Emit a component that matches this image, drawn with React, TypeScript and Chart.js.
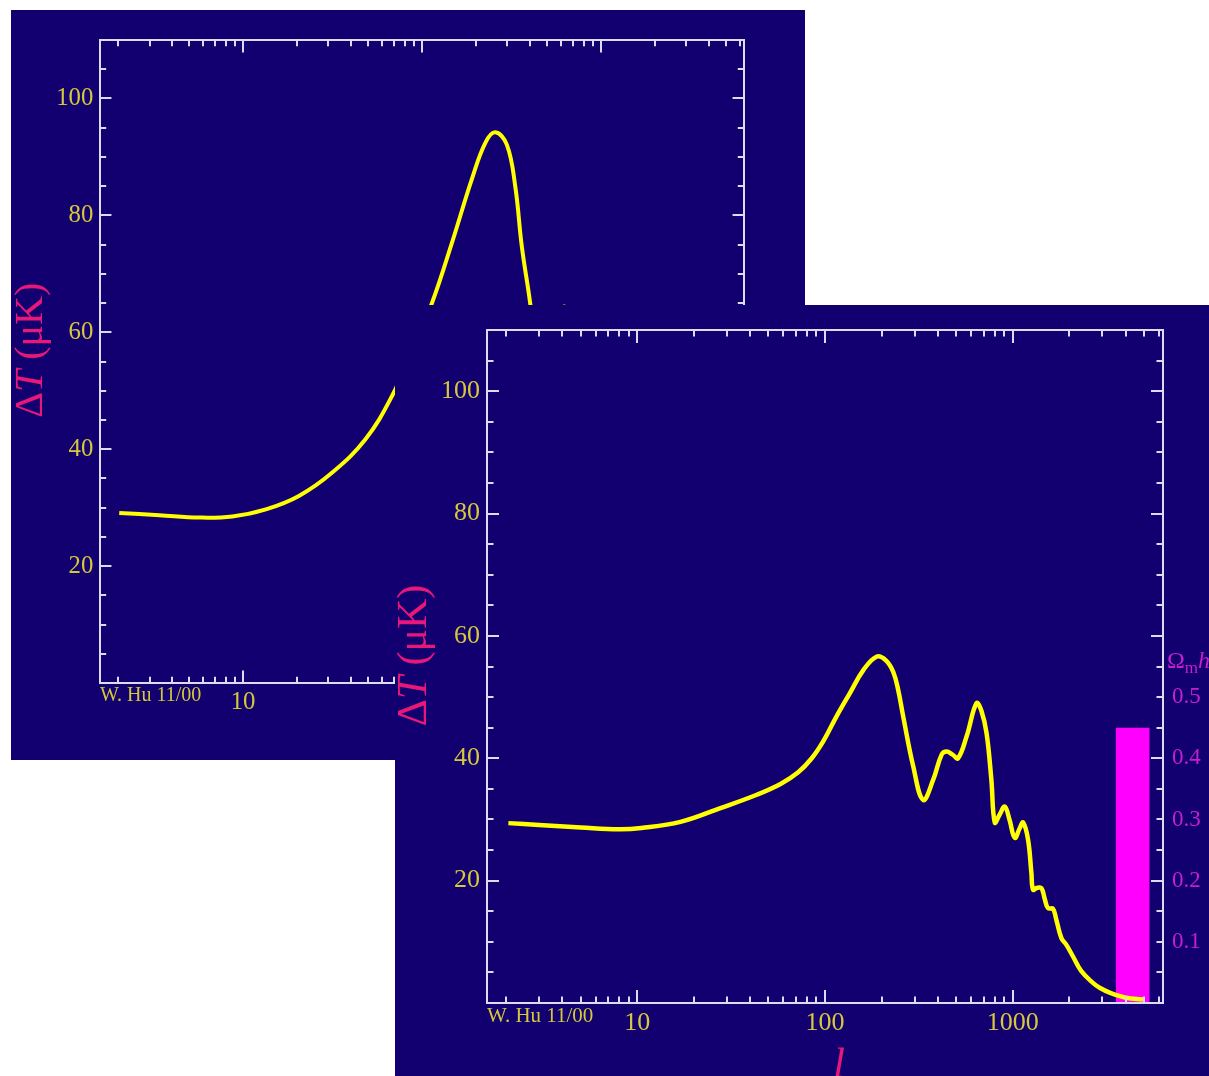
import React, { useEffect, useRef } from 'react';
import { Chart, registerables } from 'chart.js';

Chart.register(...registerables);

// ---- data ----
// front panel: multipole l and temperature anisotropy ΔT (μK)
const frontL = [2.06, 3.0, 5.0, 8.0, 10.5, 17, 28, 43, 58, 72, 85, 98, 115, 136, 160, 188, 211, 231, 246, 261, 295, 333, 377, 418, 444, 478, 511, 568, 641, 680, 725, 769, 802, 852, 906, 960, 1025, 1090, 1136, 1206, 1256, 1282, 1340, 1420, 1480, 1541, 1638, 1700, 1815, 1930, 2093, 2318, 2672, 2904, 3281, 4027, 4934];
const frontDT = [29.4, 29.1, 28.7, 28.4, 28.6, 29.6, 31.9, 34.0, 35.8, 37.7, 40.0, 42.8, 46.8, 50.7, 54.4, 56.6, 56.0, 54.1, 51.0, 46.8, 38.7, 33.2, 36.5, 40.6, 41.1, 40.6, 40.0, 43.6, 49.0, 47.8, 44.1, 36.5, 29.5, 30.8, 32.1, 30.0, 27.0, 28.6, 29.5, 26.7, 21.3, 18.5, 18.8, 18.8, 17.0, 15.5, 15.4, 13.8, 10.6, 9.5, 7.6, 5.2, 3.3, 2.5, 1.7, 0.85, 0.57];
// back panel (partly hidden)
const backL = [2.03, 3.4, 5.7, 8.7, 13.4, 20.5, 31.5, 48.3, 68, 90, 114, 147, 190, 226, 257, 298, 332, 361, 402, 450, 510, 590, 625, 665, 760, 900, 1100, 1400, 1800, 2500, 3500, 5000];
const backDT = [29.1, 28.7, 28.3, 28.5, 29.7, 32.0, 36.0, 41.7, 49.1, 57.5, 65.1, 75.3, 86.2, 92.4, 94.2, 92.1, 85.0, 74.8, 65.1, 53, 50, 63.0, 64.4, 62.8, 45, 38, 32, 22, 13, 5, 1.5, 0.6];
// Ω_m h² indicator bar (front panel)
const omegaL = [3530, 5360];
const omegaValue = [0.45, 0.45];

// ---- axes ----
const xMin = 1.585;
const xMax = 6310;
const yMin = 0;
const yMax = 110;
const omegaMax = 1.1;
const xLabelTicks = [10, 100, 1000];
const xMinorTicks = [2, 3, 4, 5, 6, 7, 8, 9, 20, 30, 40, 50, 60, 70, 80, 90, 200, 300, 400, 500, 600, 700, 800, 900, 2000, 3000, 4000, 5000, 6000];
const yLabelTicks = [20, 40, 60, 80, 100];
const yAllTicks = [5, 10, 15, 20, 25, 30, 35, 40, 45, 50, 55, 60, 65, 70, 75, 80, 85, 90, 95, 100, 105];
const omegaTicks = [0.1, 0.2, 0.3, 0.4, 0.5];

const BG = '#130070';
const AXIS_COLOR = '#dcdcf0';
const TICK_TEXT = '#d6c83c';
const TITLE_COLOR = '#e8187a';
const OMEGA_TEXT = '#c81ed2';
const BAR_COLOR = '#ff00ff';
const LINE_COLOR = '#ffff00';
const SERIF = '"Liberation Serif", "DejaVu Serif", serif';

type Panel = {
  k: number;
  width: number;
  height: number;
  yWidth: number;
  y2Width: number;
  padTop: number;
  xHeight: number;
  lValues: number[];
  dtValues: number[];
  lineWidth: number;
  showOmega: boolean;
};

function buildConfig(p: Panel): any {
  const k = p.k;
  const frame = {
    id: 'frameTicks',
    afterDatasetsDraw(chart: any) {
      const { ctx, chartArea: a, scales } = chart;
      const sx = scales.x;
      const sy = scales.y;
      ctx.save();
      ctx.strokeStyle = AXIS_COLOR;
      ctx.lineWidth = 2;
      ctx.beginPath();
      const seg = (x1: number, y1: number, x2: number, y2: number) => {
        ctx.moveTo(x1, y1);
        ctx.lineTo(x2, y2);
      };
      const xt: [number, number][] = [
        ...xMinorTicks.map((v) => [v, 6.5 * k] as [number, number]),
        ...xLabelTicks.map((v) => [v, 13 * k] as [number, number]),
      ];
      for (const [v, len] of xt) {
        const px = Math.round(sx.getPixelForValue(v));
        seg(px, a.bottom, px, a.bottom - len);
        seg(px, a.top, px, a.top + len);
      }
      for (const v of yAllTicks) {
        const len = yLabelTicks.includes(v) ? 12 * k : 6.5 * k;
        const py = Math.round(sy.getPixelForValue(v));
        seg(a.left, py, a.left + len, py);
        seg(a.right, py, a.right - len, py);
      }
      ctx.stroke();
      ctx.strokeRect(a.left, a.top, a.right - a.left, a.bottom - a.top);
      ctx.restore();
    },
  };
  const texts = {
    id: 'panelTexts',
    afterDraw(chart: any) {
      const { ctx, chartArea: a } = chart;
      ctx.save();
      // y title ΔT (μK)
      const fs = 42 * k;
      ctx.translate(a.left - 72 * k, a.top + 325.5 * k);
      ctx.rotate(-Math.PI / 2);
      ctx.fillStyle = TITLE_COLOR;
      ctx.textBaseline = 'middle';
      const parts = [
        { t: '\u0394', f: `${fs}px ${SERIF}` },
        { t: 'T', f: `italic ${fs}px ${SERIF}` },
        { t: ' (\u03bcK)', f: `${fs}px ${SERIF}` },
      ];
      let total = 0;
      for (const pt of parts) {
        ctx.font = pt.f;
        total += ctx.measureText(pt.t).width;
      }
      let cx = -total / 2;
      for (const pt of parts) {
        ctx.font = pt.f;
        ctx.fillText(pt.t, cx, 0);
        cx += ctx.measureText(pt.t).width;
      }
      ctx.restore();

      ctx.save();
      // credit
      ctx.fillStyle = TICK_TEXT;
      ctx.textBaseline = 'middle';
      ctx.textAlign = 'left';
      ctx.font = `${21 * k}px ${SERIF}`;
      ctx.fillText('W. Hu 11/00', a.left, a.bottom + 13 * k);
      // x title
      ctx.fillStyle = TITLE_COLOR;
      ctx.textAlign = 'center';
      ctx.textBaseline = 'alphabetic';
      ctx.font = `italic ${42 * k}px ${SERIF}`;
      ctx.fillText('l', a.left + 352 * k, a.bottom + 74 * k);
      // Ω_m h² label
      ctx.fillStyle = OMEGA_TEXT;
      ctx.textAlign = 'left';
      const ox = a.right + 4 * k;
      const oy = a.bottom - 335 * k;
      ctx.font = `${24 * k}px ${SERIF}`;
      ctx.fillText('\u03a9', ox, oy);
      let w = ctx.measureText('\u03a9').width;
      ctx.font = `${17 * k}px ${SERIF}`;
      ctx.fillText('m', ox + w, oy + 5 * k);
      w += ctx.measureText('m').width;
      ctx.font = `italic ${24 * k}px ${SERIF}`;
      ctx.fillText('h', ox + w, oy);
      w += ctx.measureText('h').width;
      ctx.font = `${16 * k}px ${SERIF}`;
      ctx.fillText('2', ox + w, oy - 9 * k);
      ctx.restore();
    },
  };

  const datasets: any[] = [
    {
      label: 'ΔT',
      data: p.lValues.map((l, i) => ({ x: l, y: p.dtValues[i] })),
      borderColor: LINE_COLOR,
      borderWidth: p.lineWidth,
      pointRadius: 0,
      fill: false,
      tension: 0.4,
      yAxisID: 'y',
      order: 1,
    },
  ];
  if (p.showOmega) {
    datasets.push({
      label: 'Ωm h²',
      data: omegaL.map((l, i) => ({ x: l, y: omegaValue[i] })),
      borderWidth: 0,
      borderColor: BAR_COLOR,
      backgroundColor: BAR_COLOR,
      pointRadius: 0,
      fill: 'origin',
      tension: 0,
      yAxisID: 'y2',
      order: 2,
    });
  }

  return {
    type: 'line',
    data: { datasets },
    plugins: [frame, texts],
    options: {
      responsive: false,
      animation: false,
      devicePixelRatio: 1,
      layout: { padding: { top: p.padTop, left: 0, right: 0, bottom: 0 } },
      plugins: { legend: { display: false }, tooltip: { enabled: false } },
      scales: {
        x: {
          type: 'logarithmic',
          position: 'bottom',
          min: xMin,
          max: xMax,
          grid: { display: false, drawTicks: false },
          border: { display: false },
          afterBuildTicks: (s: any) => {
            s.ticks = xLabelTicks.map((v) => ({ value: v }));
          },
          afterFit: (s: any) => {
            s.height = p.xHeight;
          },
          ticks: {
            autoSkip: false,
            maxRotation: 0,
            minRotation: 0,
            padding: 5 * k,
            color: TICK_TEXT,
            font: { family: SERIF, size: 26 * k },
            callback: (v: any) => String(v),
          },
        },
        y: {
          type: 'linear',
          position: 'left',
          min: yMin,
          max: yMax,
          grid: { display: false, drawTicks: false },
          border: { display: false },
          afterBuildTicks: (s: any) => {
            s.ticks = yLabelTicks.map((v) => ({ value: v }));
          },
          afterFit: (s: any) => {
            s.width = p.yWidth;
          },
          ticks: {
            padding: 7 * k,
            color: TICK_TEXT,
            font: { family: SERIF, size: 26 * k },
            callback: (v: any) => String(v),
          },
        },
        y2: {
          type: 'linear',
          position: 'right',
          min: 0,
          max: omegaMax,
          grid: { display: false, drawTicks: false },
          border: { display: false },
          afterBuildTicks: (s: any) => {
            s.ticks = omegaTicks.map((v) => ({ value: v }));
          },
          afterFit: (s: any) => {
            s.width = p.y2Width;
          },
          ticks: {
            padding: 9 * k,
            color: OMEGA_TEXT,
            font: { family: SERIF, size: 23 * k },
            callback: (v: any) => Number(v).toFixed(1),
          },
        },
      },
    },
  };
}

const backPanel: Panel = {
  k: 0.953,
  width: 794,
  height: 750,
  yWidth: 89,
  y2Width: 61,
  padTop: 30,
  xHeight: 77,
  lValues: backL,
  dtValues: backDT,
  lineWidth: 4,
  showOmega: false,
};

const frontPanel: Panel = {
  k: 1,
  width: 814,
  height: 771,
  yWidth: 92,
  y2Width: 46,
  padTop: 25,
  xHeight: 73,
  lValues: frontL,
  dtValues: frontDT,
  lineWidth: 4.5,
  showOmega: true,
};

function PanelChart({ panel, left, top }: { panel: Panel; left: number; top: number }) {
  const ref = useRef<HTMLCanvasElement | null>(null);
  useEffect(() => {
    if (!ref.current) return;
    const chart = new Chart(ref.current, buildConfig(panel));
    return () => chart.destroy();
  }, [panel]);
  return (
    <div
      style={{
        position: 'absolute',
        left,
        top,
        width: panel.width,
        height: panel.height,
        background: BG,
        overflow: 'hidden',
      }}
    >
      <canvas
        ref={ref}
        width={panel.width}
        height={panel.height}
        style={{ display: 'block', width: panel.width, height: panel.height }}
      />
    </div>
  );
}

export default function App() {
  return (
    <div
      style={{
        position: 'absolute',
        left: 0,
        top: 0,
        width: 1209,
        height: 1076,
        background: '#ffffff',
        overflow: 'hidden',
      }}
    >
      <PanelChart panel={backPanel} left={11} top={10} />
      <PanelChart panel={frontPanel} left={395} top={305} />
    </div>
  );
}
